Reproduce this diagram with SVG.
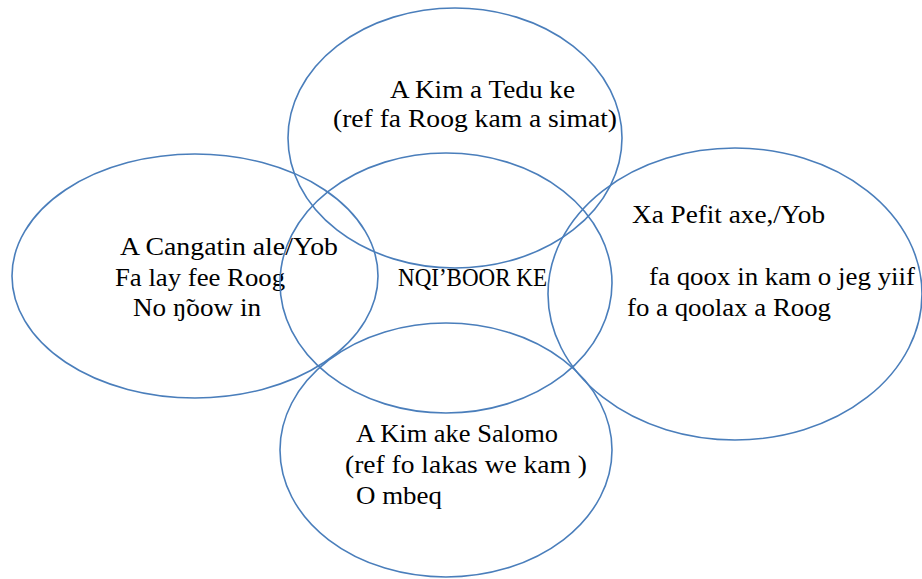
<svg xmlns="http://www.w3.org/2000/svg" width="922" height="579" viewBox="0 0 922 579">
<style>
.e{fill:none;stroke:#4a7ebb;stroke-width:1.6}
.t{font-family:"Liberation Serif","DejaVu Serif",serif;font-size:25px;fill:#000}
</style>
<rect width="922" height="579" fill="#fff"/>
<g id="top">
<ellipse class="e" cx="455" cy="138" rx="167" ry="130"/>
<text class="t" x="390" y="98" textLength="185" lengthAdjust="spacingAndGlyphs">A Kim a Tedu ke</text>
<text class="t" x="333" y="127" textLength="284" lengthAdjust="spacingAndGlyphs">(ref fa Roog kam a simat)</text>
</g>
<g id="left">
<ellipse class="e" cx="195" cy="276" rx="183" ry="122"/>
<text class="t" x="120" y="255" textLength="218" lengthAdjust="spacingAndGlyphs">A Cangatin ale/Yob</text>
<text class="t" x="115" y="286" textLength="170" lengthAdjust="spacingAndGlyphs">Fa lay fee Roog</text>
<text class="t" x="133" y="316" textLength="128" lengthAdjust="spacingAndGlyphs">No ŋ̃oow in</text>
</g>
<g id="center">
<ellipse class="e" cx="446" cy="283" rx="166" ry="130"/>
<text class="t" x="398" y="286" textLength="149" lengthAdjust="spacingAndGlyphs">NQIʼBOOR KE</text>
</g>
<g id="right">
<ellipse class="e" cx="735" cy="294" rx="187" ry="146"/>
<text class="t" x="632" y="223" textLength="193" lengthAdjust="spacingAndGlyphs">Xa Pefit axe,/Yob</text>
<text class="t" x="649" y="285" textLength="266" lengthAdjust="spacingAndGlyphs">fa qoox in kam o jeg yiif</text>
<text class="t" x="627" y="316" textLength="204" lengthAdjust="spacingAndGlyphs">fo a qoolax a Roog</text>
</g>
<g id="bottom">
<ellipse class="e" cx="446" cy="450" rx="166" ry="127"/>
<text class="t" x="356" y="442" textLength="202" lengthAdjust="spacingAndGlyphs">A Kim ake Salomo</text>
<text class="t" x="345" y="473" textLength="242" lengthAdjust="spacingAndGlyphs">(ref fo lakas we kam )</text>
<text class="t" x="356" y="504" textLength="86" lengthAdjust="spacingAndGlyphs">O mbeq</text>
</g>
<g id="connectors"/>
</svg>
